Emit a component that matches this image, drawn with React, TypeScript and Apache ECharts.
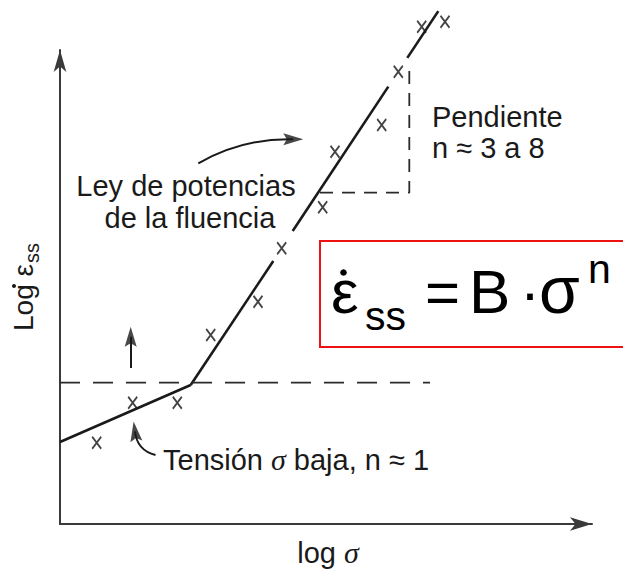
import React, { useEffect, useRef } from 'react';
import * as echarts from 'echarts';

// Data (x = log σ, y = log ε̇ss, arbitrary units)
const lowStressLine = [[0, 8.2], [13.07, 13.9]];
const powerLawSegA = [[13.07, 13.9], [21.33, 26.3]];
const powerLawSegB = [[23.27, 29.3], [32.83, 43.74]];
const powerLawSegC = [[34.73, 46.61], [37.83, 51.29]];
const dataPoints = [
  [3.67, 8.13], [7.27, 12.13], [11.73, 12.13], [15.07, 18.9], [19.8, 22.23],
  [22.17, 27.57], [26.27, 31.67], [27.5, 37.23], [32.17, 39.9], [33.83, 45.23],
  [36.17, 49.73], [38.5, 50.23],
];
const transitionLine = [[0, 14.13], [37, 14.13]];
const slopeTriangle = [[26, 33.13], [34.93, 33.13], [34.93, 45.73]];
const upArrow = [[7.07, 15.6], [7.07, 18.73]];
const powerLawPointer = [[13.83, 36.07], [23.33, 38.48]];
const lowStressPointer = [[9.55, 6.9], [7.5, 9.25]];

const xName = 'log σ';
const yName = 'Log ε';
const labelPowerLaw = ['Ley de potencias', 'de la fluencia'];
const labelSlope = ['Pendiente', 'n ≈ 3 a 8'];
const labelLowStress = ['Tensión ', 'σ', ' baja, n ≈ 1'];

const INK = '#1a1a1a';
const FONT = 'Liberation Sans, Arial, sans-serif';
const SERIF = 'Liberation Serif, Times New Roman, serif';
const HEAD = 'path://M6,0L12,20L6,16.5L0,20Z';
// orientation of the three pointer heads (degrees, counter-clockwise from "up")
const headRotations = [0, -90, 8];
const curvatures = [0, 0.14, 0.35];

// text helper: y is the alphabetic baseline
const txt = (text: string, x: number, baseline: number, size: number, align = 'left', extra: any = {}) => ({
  type: 'text',
  x,
  y: baseline - 0.3465 * size,
  style: {
    text,
    fill: INK,
    fontSize: size,
    fontFamily: FONT,
    align,
    textAlign: align,
    verticalAlign: 'middle',
    textVerticalAlign: 'middle',
    ...extra,
  },
});

export default function App() {
  const ref = useRef<HTMLDivElement>(null);
  useEffect(() => {
    if (!ref.current) return;
    const chart = echarts.init(ref.current, null, { renderer: 'svg' });
    const solid = (data: number[][]) => ({
      type: 'line', data, clip: false, symbol: 'none', silent: true,
      lineStyle: { color: INK, width: 2.6 },
    });
    const dashed = (data: number[][], dash: number[]) => ({
      type: 'line', data, clip: false, symbol: 'none', silent: true,
      lineStyle: { color: '#2a2a2a', width: 1.8, type: dash },
    });
    const pointers = [upArrow, powerLawPointer, lowStressPointer];
    chart.setOption({
      animation: false,
      backgroundColor: '#ffffff',
      grid: { left: 60, right: 31, top: 50, bottom: 47, containLabel: false, outerBoundsMode: 'none' },
      xAxis: {
        type: 'value', min: 0, max: 53.2,
        axisLine: { show: true, symbol: ['none', 'arrow'], symbolSize: [10, 22], lineStyle: { color: '#3a3a3a', width: 2 } },
        axisTick: { show: false }, axisLabel: { show: false }, splitLine: { show: false },
      },
      yAxis: {
        type: 'value', min: 0, max: 47.4,
        axisLine: { show: true, symbol: ['none', 'arrow'], symbolSize: [9.5, 22], lineStyle: { color: '#3a3a3a', width: 2 } },
        axisTick: { show: false }, axisLabel: { show: false }, splitLine: { show: false },
      },
      series: [
        solid(lowStressLine),
        solid(powerLawSegA),
        solid(powerLawSegB),
        solid(powerLawSegC),
        dashed(transitionLine, [20, 13]),
        dashed(slopeTriangle, [13, 9]),
        {
          type: 'scatter', data: dataPoints, clip: false, silent: true,
          symbol: 'path://M0,0L9,12M9,0L0,12', symbolSize: [9, 12],
          itemStyle: { color: 'none', borderColor: '#151515', borderWidth: 2 },
        },
        {
          type: 'lines', coordinateSystem: 'cartesian2d', silent: true,
          symbol: 'none',
          lineStyle: { color: INK, width: 2, opacity: 1 },
          data: pointers.map((coords, i) => ({ coords, lineStyle: { curveness: curvatures[i] } })),
        },
        {
          type: 'scatter', clip: false, silent: true,
          symbol: HEAD, symbolSize: [12, 20],
          itemStyle: { color: INK },
          data: pointers.map((p, i) => ({ value: p[1], symbolRotate: headRotations[i] })),
        },
      ],
      graphic: [
        txt(labelPowerLaw[0], 186, 196, 29, 'center'),
        txt(labelPowerLaw[1], 190, 228, 29, 'center'),
        txt(labelSlope[0], 432, 127, 29),
        txt(labelSlope[1], 432, 158, 29),
        {
          type: 'text', x: 163, y: 470 - 0.3465 * 29,
          style: {
            text: `{a|${labelLowStress[0]}}{s|${labelLowStress[1]}}{a|${labelLowStress[2]}}`,
            verticalAlign: 'middle', textVerticalAlign: 'middle',
            rich: {
              a: { fontSize: 29, fontFamily: FONT, fill: INK, color: INK },
              s: { fontSize: 30, fontFamily: SERIF, fontStyle: 'italic', fill: INK, color: INK },
            },
          },
        },
        {
          type: 'text', x: 328, y: 563 - 0.3465 * 29,
          style: {
            text: `{a|${xName.split(' ')[0]} }{s|${xName.split(' ')[1]}}`,
            align: 'center', textAlign: 'center',
            verticalAlign: 'middle', textVerticalAlign: 'middle',
            rich: {
              a: { fontSize: 29, fontFamily: FONT, fill: INK, color: INK },
              s: { fontSize: 30, fontFamily: SERIF, fontStyle: 'italic', fill: INK, color: INK },
            },
          },
        },
        {
          type: 'group', x: 33, y: 331, rotation: Math.PI / 2,
          children: [
            txt(yName, 0, 0, 28),
            txt('ss', 68, 6, 20),
            { type: 'circle', shape: { cx: 45, cy: -19, r: 2 }, style: { fill: INK } },
          ],
        },
        {
          type: 'rect', shape: { x: 320, y: 241, width: 330, height: 106 },
          style: { fill: 'none', stroke: '#ee1111', lineWidth: 2 },
        },
        txt('ε', 331, 313, 62, 'left', { fill: '#000' }),
        { type: 'circle', shape: { cx: 343.5, cy: 272.5, r: 3.3 }, style: { fill: '#000' } },
        txt('ss', 365, 330, 41, 'left', { fill: '#000' }),
        txt('=', 425, 313, 60, 'left', { fill: '#000' }),
        txt('B', 469, 313, 62, 'left', { fill: '#000' }),
        txt('·', 530, 313, 60, 'center', { fill: '#000' }),
        txt('σ', 539, 313, 66, 'left', { fill: '#000' }),
        txt('n', 588, 283, 41, 'left', { fill: '#000' }),
      ],
    });
    return () => chart.dispose();
  }, []);
  return (
    <div
      ref={ref}
      style={{ position: 'absolute', left: 0, top: 0, width: 623, height: 571, background: '#fff' }}
    />
  );
}
